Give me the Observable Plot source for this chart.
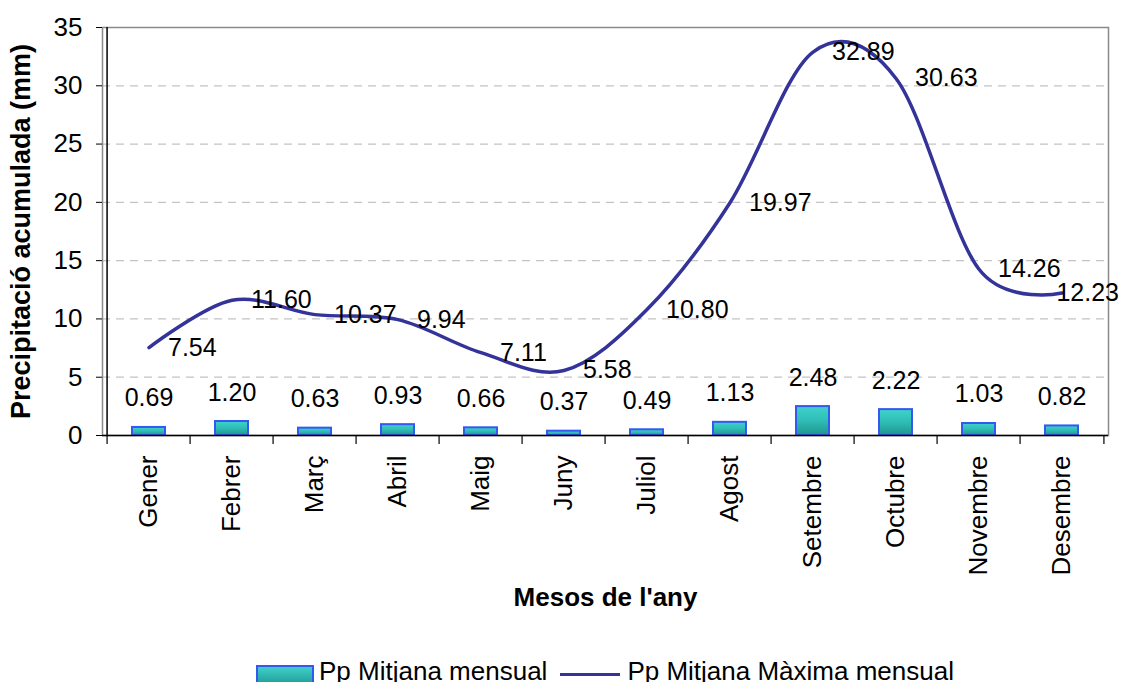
<!DOCTYPE html>
<html>
<head>
<meta charset="utf-8">
<script src="https://cdn.jsdelivr.net/npm/d3@7"></script>
<script src="https://cdn.jsdelivr.net/npm/@observablehq/plot@0.6"></script>
<style>
  html, body { margin: 0; padding: 0; background: #fff; }
  #wrap { position: relative; width: 1127px; height: 682px; overflow: hidden; font-family: "Liberation Sans", Arial, sans-serif; }
  #legend { position: absolute; left: 102px; top: 657px; width: 1006px; height: 30px; display: flex; justify-content: center; align-items: flex-start; font-size: 26px; line-height: 28px; color: #000; }
  .sw-bar { width: 58px; height: 22px; margin-top: 8px; box-sizing: border-box; border: 2px solid #3359f0; background: linear-gradient(#3fd0cb, #1f9a92); margin-right: 5px; }
  .sw-line { width: 60px; height: 3px; margin-top: 16px; background: #333399; margin-left: 13px; margin-right: 7px; }
</style>
</head>
<body>
<div id="wrap"></div>
<script>
const months = ["Gener", "Febrer", "Març", "Abril", "Maig", "Juny", "Juliol", "Agost", "Setembre", "Octubre", "Novembre", "Desembre"];
const meanMonthly = [0.69, 1.20, 0.63, 0.93, 0.66, 0.37, 0.49, 1.13, 2.48, 2.22, 1.03, 0.82];
const maxMonthly = [7.54, 11.60, 10.37, 9.94, 7.11, 5.58, 10.80, 19.97, 32.89, 30.63, 14.26, 12.23];
const yTicks = [0, 5, 10, 15, 20, 25, 30, 35];
const gridTicks = [5, 10, 15, 20, 25, 30];
const yTitle = "Precipitació acumulada (mm)";
const xTitle = "Mesos de l'any";
const seriesNames = ["Pp Mitjana mensual", "Pp Mitjana Màxima mensual"];

const rows = months.map((m, i) => ({month: m, mean: meanMonthly[i], max: maxMonthly[i]}));

const W = 1127, H = 657;
const mL = 102, mR = 19, mT = 27, mB = H - 435;
const bw = (W - mL - mR) / months.length;

const chart = Plot.plot({
  width: W,
  height: H,
  marginLeft: mL,
  marginRight: mR,
  marginTop: mT,
  marginBottom: mB,
  style: {fontFamily: "Liberation Sans, Arial, sans-serif", fontSize: "26px", color: "#000", background: "#fff", overflow: "visible"},
  x: {type: "band", domain: months, padding: 0},
  y: {domain: [0, 35]},
  marks: [
    Plot.gridY(gridTicks, {stroke: "#c4c4c4", strokeOpacity: 1, strokeWidth: 1.2, strokeDasharray: "8,6"}),
    Plot.frame({stroke: "#8a8a8a", strokeWidth: 1.5}),
    Plot.barY(rows, {x: "month", y: "mean", fill: "url(#barGrad)", stroke: "#3359f0", strokeWidth: 2, insetLeft: 25, insetRight: 25}),
    Plot.line(rows, {x: "month", y: "max", curve: "cardinal", stroke: "#333399", strokeWidth: 3.5}),
    Plot.text(rows, {x: "month", y: "mean", text: d => d.mean.toFixed(2), dy: -29, fontSize: 25, fill: "#000"}),
    Plot.text(rows.slice(0, 11), {x: "month", y: "max", text: d => d.max.toFixed(2), textAnchor: "start", dx: 19, fontSize: 25, fill: "#000"}),
    Plot.text(rows.slice(11), {x: "month", y: "max", text: d => d.max.toFixed(2), textAnchor: "end", dx: 57, fontSize: 25, fill: "#000"}),
    Plot.ruleY([0], {stroke: "#000", strokeWidth: 1.5}),
    Plot.ruleX([months[0]], {x: d => d, dx: -bw / 2, stroke: "#000", strokeWidth: 1.5}),
    Plot.axisY(yTicks, {tickSize: 6, tickPadding: 14, label: null, fontSize: 26, stroke: "#000"}),
    Plot.ruleX(months, {x: d => d, y1: 0, y2: 0, insetBottom: -9, dx: -bw / 2, stroke: "#000", strokeWidth: 1.2}),
    Plot.ruleX([months[11]], {x: d => d, y1: 0, y2: 0, insetBottom: -9, dx: bw / 2, stroke: "#000", strokeWidth: 1.2}),
    Plot.axisX({tickSize: 0, tickPadding: 20, tickRotate: -90, label: null, fontSize: 26}),
    Plot.text([xTitle], {frameAnchor: "bottom", dy: 170, fontSize: 26, fontWeight: "bold", fill: "#000"}),
    Plot.text([yTitle], {frameAnchor: "left", textAnchor: "middle", dx: -81, rotate: -90, fontSize: 27, fontWeight: "bold", fill: "#000"})
  ]
});

// gradient definition for the bars
const ns = "http://www.w3.org/2000/svg";
const defs = document.createElementNS(ns, "defs");
defs.innerHTML = '<linearGradient id="barGrad" x1="0" y1="0" x2="0" y2="1"><stop offset="0" stop-color="#40d2cc"/><stop offset="0.5" stop-color="#2fbdb6"/><stop offset="1" stop-color="#1d968d"/></linearGradient>';
chart.insertBefore(defs, chart.firstChild);
chart.style.display = "block";

const wrap = document.getElementById("wrap");
wrap.appendChild(chart);

const legend = document.createElement("div");
legend.id = "legend";
legend.innerHTML = `<div class="sw-bar"></div><span>${seriesNames[0]}</span><div class="sw-line"></div><span>${seriesNames[1]}</span>`;
wrap.appendChild(legend);
</script>
</body>
</html>
